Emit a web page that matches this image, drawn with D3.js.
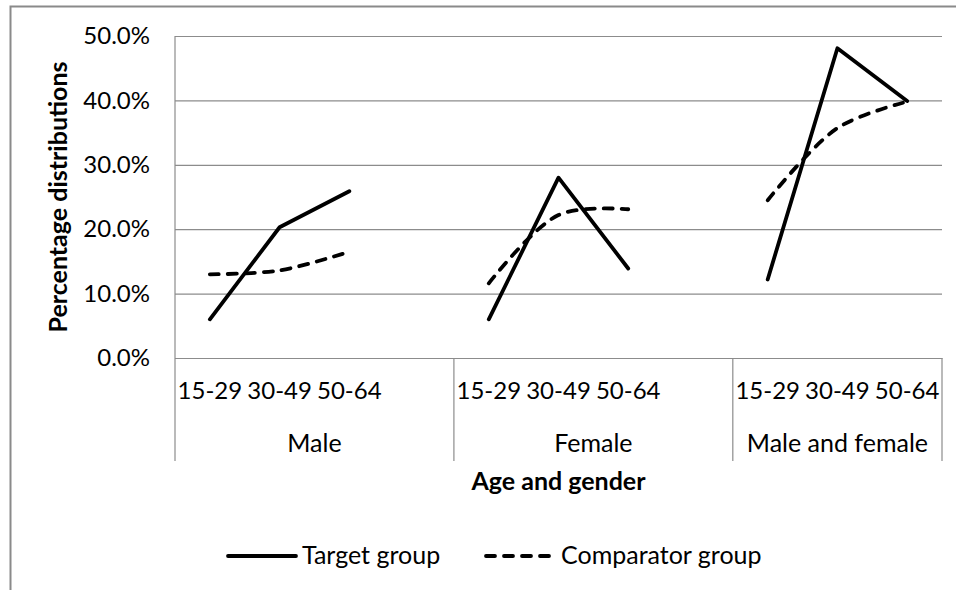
<!DOCTYPE html>
<html>
<head>
<meta charset="utf-8">
<script src="https://cdn.jsdelivr.net/npm/d3@7"></script>
<style>
  body { margin: 0; background: #fff; }
  svg text { font-family: Lato, "Liberation Sans", Arial, sans-serif; fill: #000; }
</style>
</head>
<body>
<svg id="chart" width="956" height="590"></svg>
<script>
// Age bands within each gender group
const groups = ["Male", "Female", "Male and female"];
const ageBands = ["15-29", "30-49", "50-64"];

// Percentages, group by group, age band by age band
const targetGroup     = [6.0, 20.3, 25.9,   6.0, 28.0, 13.9,   12.2, 48.1, 39.9];
const comparatorGroup = [13.0, 13.6, 16.5,  11.6, 22.2, 23.1,  24.5, 35.7, 39.8];

const yTicks = [0, 10, 20, 30, 40, 50];
const seriesNames = ["Target group", "Comparator group"];
const xTitle = "Age and gender";
const yTitle = "Percentage distributions";

const svg = d3.select("#chart");
const plot = { left: 175, right: 942, top: 36, bottom: 358 };
const NUM_FONT = 24;   // numeric tick labels
const TXT_FONT = 25;   // words: group labels, titles, legend
const GRID = "#8c8c8c";

// outer chart frame
svg.append("rect")
  .attr("x", 10.5).attr("y", 6.5)
  .attr("width", 1000).attr("height", 700)
  .attr("fill", "none").attr("stroke", "#8a8a8a").attr("stroke-width", 2);

// category slots: three age bands per group plus an empty slot between groups
const slots = groups.flatMap((g, i) => {
  const s = ageBands.map(a => g + "|" + a);
  if (i < groups.length - 1) s.push(g + "|");
  return s;
});

const x = d3.scaleBand().domain(slots).range([plot.left, plot.right]).padding(0);
const xc = key => x(key) + x.bandwidth() / 2;
const y = d3.scaleLinear().domain([0, 50]).range([plot.bottom, plot.top]);

// y axis with gridlines
const yAxis = svg.append("g")
  .attr("transform", `translate(${plot.left},0)`)
  .call(d3.axisLeft(y)
    .tickValues(yTicks)
    .tickSizeInner(-(plot.right - plot.left))
    .tickSizeOuter(0)
    .tickPadding(25)
    .tickFormat(d => d.toFixed(1) + "%"));
yAxis.select(".domain").remove();
yAxis.selectAll(".tick line").attr("stroke", GRID).attr("stroke-width", 1.2);
yAxis.selectAll(".tick text").attr("font-size", NUM_FONT).attr("font-family", null);

// vertical axis line, extending down through the category labels
const catBottom = 461;
svg.append("line")
  .attr("x1", plot.left).attr("x2", plot.left)
  .attr("y1", plot.top).attr("y2", catBottom)
  .attr("stroke", GRID).attr("stroke-width", 1.2);

// x axis: age-band labels
const xAxis = svg.append("g")
  .attr("transform", `translate(0,${plot.bottom})`)
  .call(d3.axisBottom(x)
    .tickSize(0)
    .tickPadding(24)
    .tickFormat(d => d.split("|")[1]));
xAxis.select(".domain").attr("stroke", GRID).attr("stroke-width", 1.2);
xAxis.selectAll(".tick text").attr("font-size", NUM_FONT).attr("font-family", null);

// group dividers and group labels
groups.forEach((g, i) => {
  const first = x(g + "|" + ageBands[0]);
  const end = i < groups.length - 1 ? x(groups[i + 1] + "|" + ageBands[0]) : plot.right;
  svg.append("line")
    .attr("x1", end).attr("x2", end)
    .attr("y1", plot.bottom).attr("y2", catBottom)
    .attr("stroke", GRID).attr("stroke-width", 1.2);
  svg.append("text")
    .attr("x", (first + end) / 2).attr("y", 452)
    .attr("text-anchor", "middle")
    .attr("font-size", TXT_FONT)
    .text(g);
});

// axis titles
svg.append("text")
  .attr("x", (plot.left + plot.right) / 2).attr("y", 490)
  .attr("text-anchor", "middle")
  .attr("font-size", TXT_FONT).attr("font-weight", "bold")
  .text(xTitle);

svg.append("text")
  .attr("transform", `translate(67,${(plot.top + plot.bottom) / 2}) rotate(-90)`)
  .attr("text-anchor", "middle")
  .attr("font-size", TXT_FONT).attr("font-weight", "bold")
  .text(yTitle);

// series
const STROKE = 3.8;
const series = [
  { name: seriesNames[0], values: targetGroup, dash: null, curve: d3.curveLinear },
  { name: seriesNames[1], values: comparatorGroup, dash: "9,9", curve: d3.curveCatmullRom.alpha(0.5) }
];

series.forEach(s => {
  groups.forEach((g, gi) => {
    const pts = ageBands.map((a, ai) => [xc(g + "|" + a), y(s.values[gi * ageBands.length + ai])]);
    svg.append("path")
      .attr("d", d3.line().curve(s.curve)(pts))
      .attr("fill", "none")
      .attr("stroke", "#000")
      .attr("stroke-width", STROKE)
      .attr("stroke-linecap", "round")
      .attr("stroke-linejoin", "round")
      .attr("stroke-dasharray", s.dash);
  });
});

// legend
const legendY = 556;
const legendItems = [
  { x: 228, width: 68, textX: 302 },
  { x: 486, width: 71, textX: 561 }
];
series.forEach((s, i) => {
  const L = legendItems[i];
  svg.append("line")
    .attr("x1", L.x).attr("x2", L.x + L.width)
    .attr("y1", legendY).attr("y2", legendY)
    .attr("stroke", "#000").attr("stroke-width", STROKE)
    .attr("stroke-linecap", "round")
    .attr("stroke-dasharray", s.dash);
  svg.append("text")
    .attr("x", L.textX).attr("y", legendY + 8)
    .attr("font-size", TXT_FONT)
    .text(s.name);
});
</script>
</body>
</html>
